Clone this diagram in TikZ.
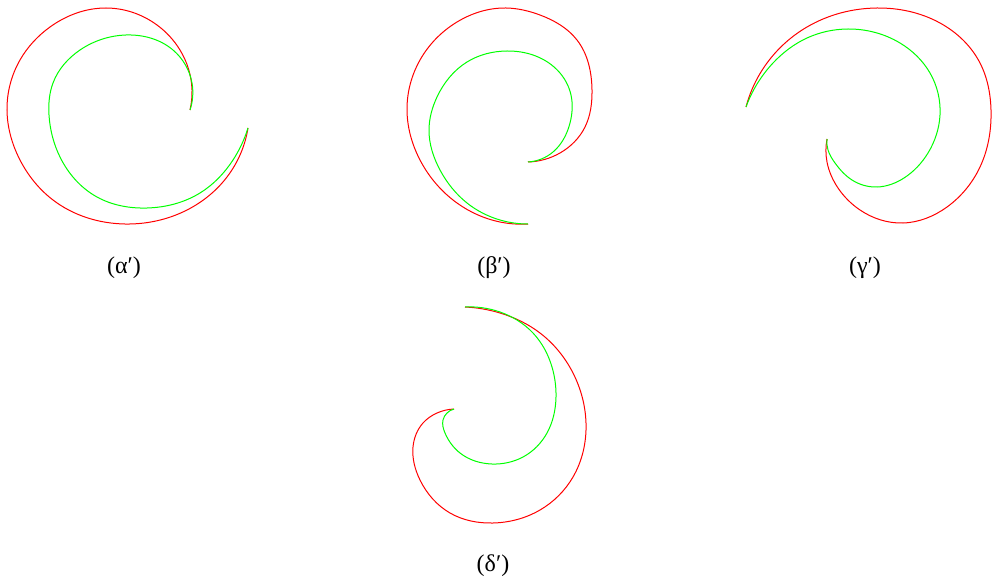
\documentclass[tikz,border=0pt]{standalone}
\usepackage{fontspec}
\setmainfont{Liberation Serif}
\usepackage{tikz}
\usetikzlibrary{positioning, hobby}
\usepackage{xcolor}

\begin{document}
\begin{tikzpicture}[x=1pt, y=-1pt,
        redcurve/.style={red, line width=1pt, use Hobby shortcut},
        greencurve/.style={green, line width=1pt, use Hobby shortcut},
        caption/.style={font=\fontsize{24}{28}\selectfont, inner sep=0pt}]
    \useasboundingbox (0,0) rectangle (992,588);
    % (alpha')
    \draw[redcurve] (190,110) .. (192,90) .. (180,50) .. (157,25) .. (106,8) .. (50,27) .. (20,60) .. (7,110) .. (20,160) .. (53,200) .. (125,224) .. (187,210) .. (227,177) .. (248,128);
    \draw[greencurve] (190,110) .. (192,83) .. (173,50) .. (126,35) .. (80,50) .. (53,83) .. (49,115) .. (60,157) .. (97,197) .. (147,208) .. (200,193) .. (233,160) .. (248,128);
    % (beta')
    \draw[redcurve] (528,162) .. (560,153) .. (585,127) .. (592,90) .. (577,40) .. (540,15) .. (506,8) .. (457,22) .. (420,60) .. (407,110) .. (420,160) .. (457,203) .. (500,222) .. (528,224);
    \draw[greencurve] (528,162) .. (553,152) .. (570,123) .. (571,95) .. (560,73) .. (533,55) .. (507,51) .. (467,62) .. (437,97) .. (429,130) .. (440,170) .. (467,203) .. (500,220) .. (528,224);
    % (gamma')
    \draw[redcurve] (746,107) .. (767,63) .. (807,27) .. (877,8) .. (940,23) .. (980,63) .. (991,110) .. (980,167) .. (947,207) .. (903,223) .. (860,210) .. (838,188) .. (827,162) .. (827,139);
    \draw[greencurve] (746,107) .. (773,63) .. (807,38) .. (848,29) .. (900,43) .. (930,73) .. (940,115) .. (928,153) .. (904,178) .. (877,187) .. (852,180) .. (835,163) .. (828,150) .. (827,139);
    % (delta')
    \draw[redcurve] (465,307) .. (500,313) .. (540,333) .. (573,373) .. (586,423) .. (573,477) .. (540,510) .. (493,523) .. (450,513) .. (420,480) .. (413,447) .. (423,423) .. (437,413) .. (454,409);
    \draw[greencurve] (465,307) .. (500,312) .. (533,333) .. (552,367) .. (556,397) .. (547,433) .. (523,457) .. (492,464) .. (460,453) .. (445,433) .. (443,420) .. (447,413) .. (454,409);
    % captions
    \node[caption] (capa) at (124,268) {(α′)};
    \node[caption] (capb) at (494,268) {(β′)};
    \node[caption] (capc) at (865,268) {(γ′)};
    \node[caption] (capd) at (493,566) {(δ′)};
\end{tikzpicture}
\end{document}
